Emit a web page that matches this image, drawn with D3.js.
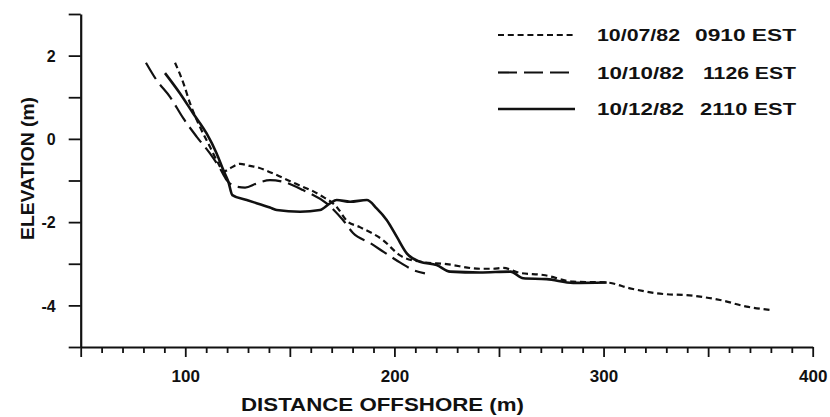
<!DOCTYPE html>
<html>
<head>
<meta charset="utf-8">
<script src="https://cdn.jsdelivr.net/npm/d3@7/dist/d3.min.js"></script>
<style>
  html, body { margin: 0; padding: 0; background: #fff; }
  svg { display: block; }
  text { font-family: "Liberation Sans", Arial, Helvetica, sans-serif; font-weight: bold; fill: #111; }
</style>
</head>
<body>
<svg id="chart" width="830" height="417"></svg>
<script>
// Beach profiles: distance offshore (m) vs elevation (m)
const profile0710x = [95.1, 99.1, 102.3, 107.0, 111.8, 115.8, 118.2, 121.0, 126.2, 131.0, 134.2, 140.5, 151.5, 164.4, 172.5, 177.3, 183.5, 194.5, 202.7, 212.2, 225.0, 240.9, 247.0, 252.0, 260.0, 271.2, 285.5, 301.5, 312.6, 325.4, 342.9, 355.7, 368.4, 379.6];
const profile0710y = [1.83, 1.34, 0.85, 0.29, -0.19, -0.59, -0.79, -0.72, -0.60, -0.65, -0.68, -0.80, -1.05, -1.35, -1.64, -1.97, -2.12, -2.43, -2.80, -2.95, -3.01, -3.12, -3.12, -3.10, -3.22, -3.27, -3.43, -3.45, -3.59, -3.71, -3.77, -3.87, -4.03, -4.11];

const profile1010x = [81.2, 86.3, 92.7, 99.1, 105.5, 111.8, 116.6, 119.8, 124.6, 128.6, 134.2, 140.5, 146.7, 156.3, 167.6, 175.4, 180.2, 188.3, 195.0, 203.0, 209.0, 214.6];
const profile1010y = [1.83, 1.41, 1.01, 0.49, 0.05, -0.35, -0.71, -0.99, -1.15, -1.17, -1.07, -0.99, -1.03, -1.23, -1.55, -1.95, -2.26, -2.50, -2.72, -2.98, -3.15, -3.23];

const profile1210x = [90.3, 97.5, 103.8, 110.2, 115.0, 118.2, 120.6, 122.5, 129.4, 140.5, 143.7, 154.9, 164.4, 169.2, 172.4, 178.8, 186.8, 191.5, 196.3, 201.1, 205.9, 212.2, 220.2, 226.6, 240.9, 255.5, 261.6, 272.8, 285.5, 301.5];
const profile1210y = [1.58, 1.09, 0.61, 0.13, -0.35, -0.75, -1.03, -1.35, -1.47, -1.65, -1.71, -1.75, -1.71, -1.55, -1.47, -1.51, -1.47, -1.67, -1.95, -2.35, -2.75, -2.95, -3.03, -3.19, -3.21, -3.19, -3.35, -3.37, -3.46, -3.45];

const seriesDates = ["10/07/82", "10/10/82", "10/12/82"];
const seriesTimes = ["0910 EST", "1126 EST", "2110 EST"];

const xTickLabels = [100, 200, 300, 400];
const yTickLabels = [2, 0, -2, -4];

const svg = d3.select("#chart");

const x = d3.scaleLinear().domain([50, 400]).range([80.7, 812.7]);
const y = d3.scaleLinear().domain([-5, 3]).range([347, 14]);

// y axis: a tick every metre, labels on even values
const yAxis = d3.axisLeft(y)
  .tickValues(d3.range(-5, 4, 1))
  .tickSize(12)
  .tickSizeOuter(0)
  .tickPadding(13)
  .tickFormat(d => yTickLabels.includes(d) ? d3.format("d")(d).replace("−", "-") : "");
const gy = svg.append("g").attr("transform", `translate(${x(50)},0)`).call(yAxis);
gy.select(".domain").attr("stroke", "#111").attr("stroke-width", 2.2);
gy.selectAll(".tick line").attr("stroke", "#111").attr("stroke-width", 1.8);
gy.selectAll(".tick text").attr("font-size", 16).attr("dy", "0.36em")
  .attr("font-family", "Liberation Sans, Arial, sans-serif").attr("font-weight", "bold").attr("fill", "#111");

// x axis: minor ticks every 10 m, longer ticks every 50 m
const xAxis = d3.axisBottom(x)
  .tickValues(d3.range(50, 401, 10))
  .tickSize(6)
  .tickSizeOuter(0)
  .tickFormat(d => xTickLabels.includes(d) ? String(d) : "");
const gx = svg.append("g").attr("transform", `translate(0,${y(-5)})`).call(xAxis);
gx.select(".domain").attr("stroke", "#111").attr("stroke-width", 2);
gx.selectAll(".tick line").attr("stroke", "#111").attr("stroke-width", 1.8)
  .attr("y2", d => d % 50 === 0 ? 10 : 6);
gx.selectAll(".tick text").attr("y", 35).attr("dy", 0).attr("font-size", 17)
  .attr("font-family", "Liberation Sans, Arial, sans-serif").attr("font-weight", "bold").attr("fill", "#111");

// axis titles
svg.append("text")
  .attr("x", 241).attr("y", 411)
  .attr("font-size", 18)
  .attr("textLength", 283).attr("lengthAdjust", "spacingAndGlyphs")
  .text("DISTANCE OFFSHORE (m)");

svg.append("text")
  .attr("transform", "translate(34,240) rotate(-90)")
  .attr("font-size", 18)
  .attr("textLength", 143).attr("lengthAdjust", "spacingAndGlyphs")
  .text("ELEVATION (m)");

// profile lines
const styles = [
  { dash: "6,3.8", width: 2.2 },
  { dash: "19,7", width: 2.2 },
  { dash: null, width: 2.6 }
];
const series = [
  d3.zip(profile0710x, profile0710y),
  d3.zip(profile1010x, profile1010y),
  d3.zip(profile1210x, profile1210y)
];

const line = d3.line()
  .x(d => x(d[0]))
  .y(d => y(d[1]))
  .curve(d3.curveMonotoneX);

svg.append("g").selectAll("path")
  .data(series)
  .join("path")
  .attr("d", line)
  .attr("fill", "none")
  .attr("stroke", "#111")
  .attr("stroke-width", (d, i) => styles[i].width)
  .attr("stroke-dasharray", (d, i) => styles[i].dash)
  .attr("stroke-linejoin", "round");

// legend
const legendRows = [35, 72.5, 109];
const dateWidths = [83, 87, 87];
const timeStarts = [695, 703, 700];
const timeEnd = 796;
const legend = svg.append("g");
seriesDates.forEach((label, i) => {
  legend.append("line")
    .attr("x1", 498).attr("x2", 575)
    .attr("y1", legendRows[i]).attr("y2", legendRows[i])
    .attr("stroke", "#111")
    .attr("stroke-width", styles[i].width)
    .attr("stroke-dasharray", styles[i].dash);
  legend.append("text")
    .attr("x", 597).attr("y", legendRows[i] + 6)
    .attr("font-size", 16)
    .attr("textLength", dateWidths[i]).attr("lengthAdjust", "spacingAndGlyphs")
    .text(label);
  legend.append("text")
    .attr("x", timeStarts[i]).attr("y", legendRows[i] + 6)
    .attr("font-size", 16)
    .attr("textLength", timeEnd - timeStarts[i]).attr("lengthAdjust", "spacingAndGlyphs")
    .text(seriesTimes[i]);
});
</script>
</body>
</html>
